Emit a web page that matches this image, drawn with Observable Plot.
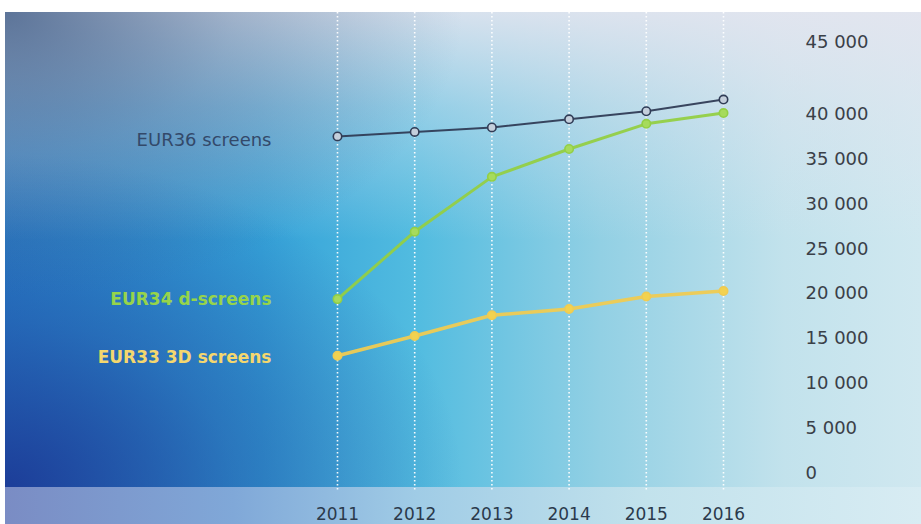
<!DOCTYPE html>
<html><head><meta charset="utf-8">
<script src="https://cdn.jsdelivr.net/npm/d3@7"></script>
<script src="https://cdn.jsdelivr.net/npm/@observablehq/plot@0.6"></script>
<style>
body{margin:0;background:#fff;}
#wrap{position:relative;width:921px;height:524px;overflow:hidden;background:#fff;}
#bg{position:absolute;left:5px;top:12px;width:916px;height:475px;
 background:
  radial-gradient(ellipse 50% 60% at 0% 0%, rgba(72,98,138,0.85), rgba(72,98,138,0.35) 50%, rgba(72,98,138,0)),
  radial-gradient(ellipse 50% 70% at 0% 100%, rgba(28,58,150,0.95), rgba(28,58,150,0.4) 50%, rgba(28,58,150,0)),
  linear-gradient(180deg, rgba(228,229,239,0.9) 0%, rgba(228,229,239,0.45) 20%, rgba(228,229,239,0) 48%),
  linear-gradient(90deg, #2a84cc 0%, #35a2d8 28%, #52bce0 45%, #92d0e4 65%, #c2e2ec 85%, #d0e8f0 100%);}
#band{position:absolute;left:5px;top:487px;width:916px;height:37px;
 background:linear-gradient(90deg, #7a8cc4 0%, #80a8d8 25%, #a0cce6 45%, #c2e2ec 70%, #d8ecf3 100%);}
#chart{position:absolute;left:0;top:0;}
</style></head>
<body><div id="wrap"><div id="bg"></div><div id="band"></div><div id="chart"></div></div>
<script>
const years = [2011, 2012, 2013, 2014, 2015, 2016];
const screens = [37500, 38000, 38500, 39400, 40300, 41600];
const dScreens = [19400, 26900, 33000, 36100, 38900, 40100];
const screens3D = [13100, 15300, 17600, 18300, 19700, 20300];
const seriesNames = ["EUR36 screens", "EUR34 d-screens", "EUR33 3D screens"];
const yTicks = [0, 5000, 10000, 15000, 20000, 25000, 30000, 35000, 40000];
const yTopTick = [45000];

const seriesValues = [screens, dScreens, screens3D];
const lineColors = ["#303c56", "#93cf45", "#efcb52"];
const dotFills = ["#c4cfdc", "#a6db5c", "#f2d250"];
const labelColors = ["#33496a", "#96d44a", "#f4d76e"];
const lineWidths = [2, 3, 3.5];
const labelWeights = ["normal", "bold", "bold"];
const labelSizes = [18, 17, 17];

const rows = seriesNames.flatMap((name, i) =>
  years.map((year, j) => ({name, year, value: seriesValues[i][j], i})));
const firsts = seriesNames.map((name, i) => ({name, year: years[0], value: seriesValues[i][0], i}));

const fmt = d => d3.format(",")(d).replace(/,/g, " ");

const marks = [
  Plot.ruleX(years, {x: d => d, stroke: "#ffffff", strokeWidth: 1.6, strokeDasharray: "1.5,2.5", strokeOpacity: 0.95}),
  ...seriesNames.map((name, i) => Plot.line(rows.filter(r => r.i === i), {
    x: "year", y: "value", stroke: lineColors[i], strokeWidth: lineWidths[i], strokeOpacity: 0.95
  })),
  ...seriesNames.map((name, i) => Plot.dot(rows.filter(r => r.i === i), {
    x: "year", y: "value", r: 4.2, fill: dotFills[i], stroke: lineColors[i], strokeWidth: 1.6
  })),
  ...seriesNames.map((name, i) => Plot.text([firsts[i]], {
    x: "year", y: "value", text: "name", dx: -66, dy: i === 0 ? 4 : (i === 2 ? 2 : 0),
    textAnchor: "end", fill: labelColors[i], fontSize: labelSizes[i], fontWeight: labelWeights[i],
    fontFamily: "DejaVu Sans"
  })),
  Plot.axisX(years, {anchor: "bottom", tickSize: 0, tickPadding: 15, tickFormat: d => String(d),
    fontSize: 17, fill: "#2b3a4c", fontFamily: "DejaVu Sans", label: null}),
  Plot.axisY(yTicks, {anchor: "right", tickSize: 0, tickPadding: 5, tickFormat: fmt,
    fontSize: 18, fill: "#3a4048", fontFamily: "DejaVu Sans", label: null}),
  Plot.axisY(yTopTick, {anchor: "right", tickSize: 0, tickPadding: 5, tickFormat: fmt, dy: -26.5,
    fontSize: 18, fill: "#3a4048", fontFamily: "DejaVu Sans", label: null})
];

const chart = Plot.plot({
  width: 921,
  height: 524,
  marginTop: 12,
  marginBottom: 32,
  marginLeft: 5,
  marginRight: 121,
  style: {background: "transparent", overflow: "visible"},
  x: {domain: [2011, 2016], range: [337, 723]},
  y: {domain: [0, 45000], range: [473, 68.5]},
  marks
});
document.getElementById("chart").appendChild(chart);
</script>
</body></html>
